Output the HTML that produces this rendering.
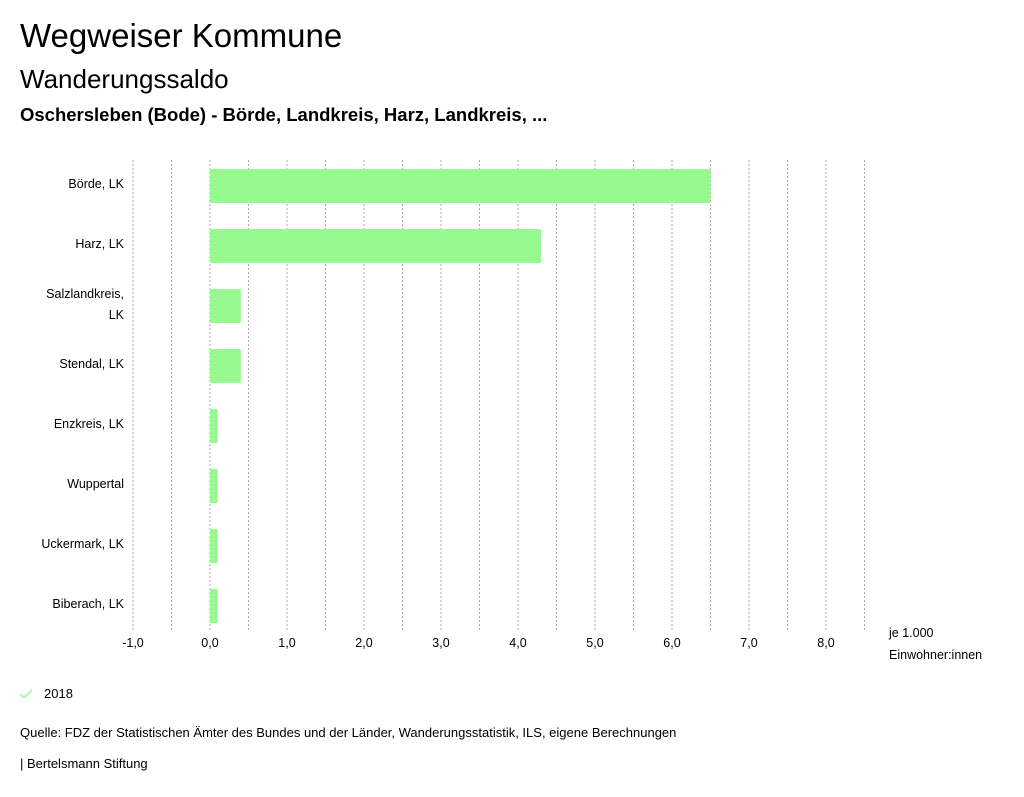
<!DOCTYPE html>
<html><head><meta charset="utf-8"><style>
body{margin:0;width:1024px;height:797px;background:#fff;font-family:"Liberation Sans",sans-serif;color:#000;position:relative;overflow:hidden}
.t{position:absolute;left:20px;white-space:nowrap}
</style></head><body>
<div class="t" style="top:17px;font-size:33px">Wegweiser Kommune</div>
<div class="t" style="top:64px;font-size:26px">Wanderungssaldo</div>
<div class="t" style="top:104px;font-size:18.5px;font-weight:bold">Oschersleben (Bode) - Börde, Landkreis, Harz, Landkreis, ...</div>
<svg id="c" width="1024" height="680" style="position:absolute;left:0;top:0" font-family="Liberation Sans, sans-serif" font-size="12.5"></svg>
<svg style="position:absolute;left:18px;top:686px" width="18" height="16"><path d="M2 8 L6 12 L14 4" stroke="#98f990" stroke-width="1.5" fill="none"/></svg>
<div class="t" style="left:44px;top:686px;font-size:13px">2018</div>
<div class="t" style="top:725px;font-size:13px">Quelle: FDZ der Statistischen Ämter des Bundes und der Länder, Wanderungsstatistik, ILS, eigene Berechnungen</div>
<div class="t" style="top:756px;font-size:13px">| Bertelsmann Stiftung</div>
<script>
const categories=["Börde, LK","Harz, LK","Salzlandkreis, LK","Stendal, LK","Enzkreis, LK","Wuppertal","Uckermark, LK","Biberach, LK"];
const values2018=[6.5,4.3,0.4,0.4,0.1,0.1,0.1,0.1];
const tickValues=[-1,0,1,2,3,4,5,6,7,8];
const tickLabels=["-1,0","0,0","1,0","2,0","3,0","4,0","5,0","6,0","7,0","8,0"];
const svg=document.getElementById('c');const NS='http://www.w3.org/2000/svg';
const x=v=>210+v*77;
const yc=i=>186+i*60;
function el(t,a){const e=document.createElementNS(NS,t);for(const k in a)e.setAttribute(k,a[k]);svg.appendChild(e);return e;}
for(let g=-1;g<=8.5;g+=0.5){const l=el('line',{x1:x(g),x2:x(g),y1:160,y2:632,stroke:'#aaa','stroke-dasharray':'2,2'});

}
tickValues.forEach((v,i)=>{const t=el('text',{x:x(v),y:647,'text-anchor':'middle'});t.textContent=tickLabels[i];

});
categories.forEach((c,i)=>{const r=el('rect',{x:Math.min(x(0),x(values2018[i])),y:yc(i)-17,width:Math.abs(x(values2018[i])-x(0)),height:34,fill:'#98f990'});


const t=el('text',{x:124,y:yc(i)+2,'text-anchor':'end'});


if(c==="Salzlandkreis, LK"){t.setAttribute('y',yc(i)-8);const a=document.createElementNS(NS,'tspan');a.textContent="Salzlandkreis,";t.appendChild(a);const b=document.createElementNS(NS,'tspan');b.setAttribute('x',124);b.setAttribute('dy',21);b.textContent="LK";t.appendChild(b);}
else t.textContent=c;});
const u1=el('text',{x:889,y:637});u1.textContent="je 1.000";


const u2=el('text',{x:889,y:659});u2.textContent="Einwohner:innen";


</script>
</body></html>
